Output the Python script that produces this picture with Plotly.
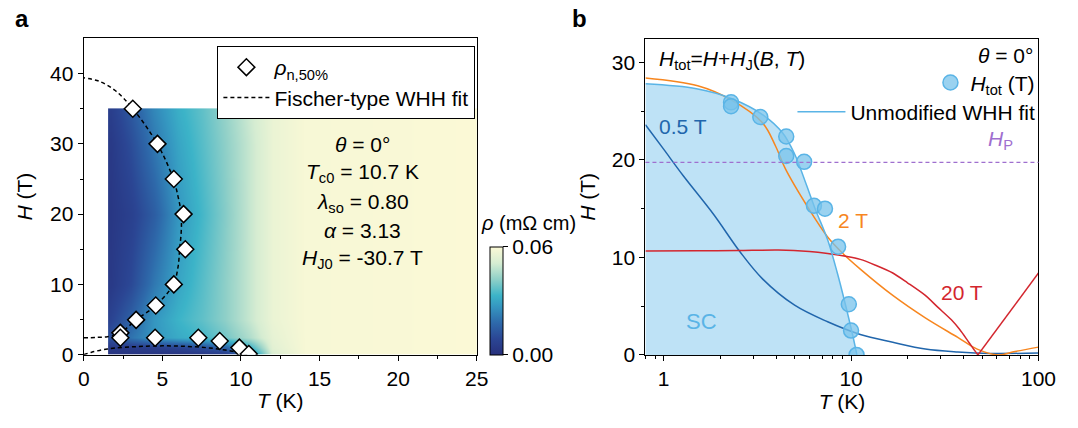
import numpy as np
import plotly.graph_objects as go

# ---------------- Panel a data ----------------
# heatmap grid (resistivity, mOhm cm)
T_grid = [1.6, 1.7, 3, 4.5, 6, 7.5, 9, 10.5, 12, 14, 24.9, 25]
H_grid = [0, 1, 2.5, 5, 10, 20, 30, 34.9, 35]
rho = [
    [0.002, 0.002, 0.002, 0.002, 0.002, 0.003, 0.005, 0.020, 0.052, 0.059, 0.06, 0.06],
    [0.004, 0.004, 0.005, 0.006, 0.008, 0.011, 0.016, 0.032, 0.054, 0.059, 0.06, 0.06],
    [0.012, 0.012, 0.020, 0.027, 0.031, 0.034, 0.039, 0.046, 0.055, 0.059, 0.06, 0.06],
    [0.007, 0.008, 0.016, 0.027, 0.033, 0.037, 0.042, 0.049, 0.056, 0.059, 0.06, 0.06],
    [0.004, 0.004, 0.010, 0.021, 0.030, 0.036, 0.042, 0.049, 0.056, 0.059, 0.06, 0.06],
    [0.003, 0.003, 0.007, 0.015, 0.027, 0.034, 0.041, 0.049, 0.056, 0.059, 0.06, 0.06],
    [0.004, 0.004, 0.011, 0.021, 0.030, 0.036, 0.042, 0.049, 0.056, 0.059, 0.06, 0.06],
    [0.006, 0.006, 0.014, 0.024, 0.032, 0.037, 0.043, 0.050, 0.056, 0.059, 0.06, 0.06],
    [0.006, 0.006, 0.014, 0.024, 0.032, 0.037, 0.043, 0.050, 0.056, 0.059, 0.06, 0.06],
]
# rho_n,50% points
T_half = [3.12, 4.69, 5.73, 6.35, 6.46, 5.73, 4.58, 3.33, 2.33, 2.33, 4.54, 7.29, 8.65, 9.9, 10.5]
H_half = [35.0, 30.0, 25.0, 20.0, 15.0, 10.0, 7.0, 4.95, 3.1, 2.4, 2.4, 2.4, 1.94, 1.0, 0.1]
# Fischer-type WHH fit (upper reentrant branch and lower branch)
fitU_T = [0, 0.8, 1.5, 2.0, 2.35, 3.33, 4.58, 5.7, 6.0, 6.1, 6.2, 6.2, 6.0, 5.7, 4.68, 3.12, 2.0, 1.0, 0]
fitU_H = [2.4, 2.45, 2.55, 2.8, 3.1, 4.95, 7.0, 10.0, 12.5, 15.0, 17.5, 20.0, 22.5, 25.0, 30.0, 35.0, 37.6, 38.9, 39.4]
fitL_T = [0, 0.5, 1, 1.5, 2, 3, 4, 5, 6, 7, 8, 9, 10, 10.4]
fitL_H = [0, 0.35, 0.6, 0.8, 0.95, 1.1, 1.2, 1.25, 1.22, 1.12, 0.95, 0.65, 0.25, 0]

# ---------------- Panel b data ----------------
T_tot = [2.29, 2.29, 3.28, 4.51, 4.51, 5.62, 6.34, 7.26, 8.53, 9.73, 10.0, 10.7]
H_tot = [25.9, 25.5, 24.4, 22.4, 20.4, 19.8, 15.3, 15.0, 11.1, 5.2, 2.5, 0.0]
whh_T = [0.8, 1.5, 2.3, 3.4, 4.3, 5.0, 5.4, 6.4, 7.5, 8.45, 9.35, 10.1, 10.75]
whh_H = [27.8, 27.3, 26.3, 24.6, 22.8, 20.6, 19.0, 15.1, 11.8, 8.4, 5.1, 2.4, 0.0]
b05_T = [0.8, 1.0, 1.27, 1.85, 2.55, 3.37, 5.0, 7.5, 11.2, 16.7, 24.9, 37.1, 55.6, 100]
b05_H = [23.6, 21.1, 18.4, 14.4, 10.6, 7.8, 5.1, 3.4, 2.1, 1.3, 0.6, 0.3, 0.15, 0.2]
b2_T = [0.8, 1.52, 2.27, 3.37, 3.96, 4.46, 5.9, 7.5, 9.16, 11.2, 16.7, 24.9, 37.1, 47.1, 61.1, 75, 100]
b2_H = [28.4, 27.6, 26.2, 23.8, 21.4, 19.1, 15.1, 12.1, 10.3, 8.8, 6.1, 3.8, 1.8, 0.6, 0.0, 0.35, 0.8]
b20_T = [0.8, 1.5, 2.5, 4.1, 6.0, 7.5, 9.5, 11.2, 13.5, 16.7, 20, 24.9, 29, 34.3, 38, 41.8, 44.5, 47.5, 100]
b20_H = [10.66, 10.68, 10.7, 10.75, 10.6, 10.4, 10.1, 9.8, 9.2, 8.4, 7.4, 6.1, 4.9, 3.6, 2.6, 1.5, 0.75, 0.0, 8.4]
H_P = 19.75

FONT = "Liberation Sans, Arial, sans-serif"
FS = 21
LB = "#5ab4e6"
W, Hh = 1078, 428


def px(x):
    return x / W


def py(y):
    return (Hh - y) / Hh


fig = go.Figure()

cscale = [[0.0, '#27307c'], [0.15, '#2b4694'], [0.3, '#2e6aab'], [0.45, '#3597c1'],
          [0.55, '#3cb4c8'], [0.7, '#8fd0c8'], [0.85, '#d6edd2'], [1.0, '#fbf9d6']]

fig.add_trace(go.Heatmap(
    x=T_grid, y=H_grid, z=rho, zsmooth='best', colorscale=cscale, zmin=0, zmax=0.06,
    xaxis='x', yaxis='y', showlegend=False, hoverinfo='skip',
    colorbar=dict(thickness=13, thicknessmode='pixels', len=107.6, lenmode='pixels',
                  x=px(495), xanchor='left', y=py(364.3), yanchor='bottom', xpad=0, ypad=0,
                  outlinewidth=1, outlinecolor='black', tickvals=[0, 0.06], ticktext=['0.00', '0.06'],
                  ticks='outside', ticklen=5, tickcolor='black', tickwidth=1.2,
                  tickfont=dict(size=FS, family=FONT, color='black'))))

fig.add_trace(go.Scatter(x=fitU_T, y=fitU_H, mode='lines', line=dict(color='black', width=1.5, dash='4px,3px', shape='spline'),
                         name='Fischer-type WHH fit', legend='legend', legendrank=2, xaxis='x', yaxis='y'))
fig.add_trace(go.Scatter(x=fitL_T, y=fitL_H, mode='lines', line=dict(color='black', width=1.5, dash='4px,3px', shape='spline'),
                         showlegend=False, xaxis='x', yaxis='y'))
fig.add_trace(go.Scatter(x=T_half, y=H_half, mode='markers',
                         marker=dict(symbol='diamond', size=13, color='white', line=dict(color='black', width=1.5)),
                         name='<i>ρ</i><sub>n,50%</sub>', legend='legend', legendrank=1, xaxis='x', yaxis='y'))

# panel b
fig.add_trace(go.Scatter(x=whh_T, y=whh_H, mode='none', fill='tozeroy', fillcolor='rgba(110,190,235,0.45)',
                         line=dict(shape='spline'), showlegend=False, xaxis='x2', yaxis='y2', hoverinfo='skip'))
fig.add_trace(go.Scatter(x=b05_T, y=b05_H, mode='lines', line=dict(color='#2166ac', width=1.5, shape='spline'),
                         showlegend=False, xaxis='x2', yaxis='y2'))
fig.add_trace(go.Scatter(x=b2_T, y=b2_H, mode='lines', line=dict(color='#f7861f', width=1.5, shape='spline'),
                         showlegend=False, xaxis='x2', yaxis='y2'))
# 20 T curve: smooth descending part, straight rising part after the cusp
fig.add_trace(go.Scatter(x=b20_T[:-1], y=b20_H[:-1], mode='lines', line=dict(color='#d3262e', width=1.5, shape='spline', smoothing=0.8),
                         showlegend=False, xaxis='x2', yaxis='y2'))
fig.add_trace(go.Scatter(x=b20_T[-2:], y=b20_H[-2:], mode='lines', line=dict(color='#d3262e', width=1.5),
                         showlegend=False, xaxis='x2', yaxis='y2'))
fig.add_trace(go.Scatter(x=whh_T, y=whh_H, mode='lines', line=dict(color=LB, width=1.5, shape='spline'),
                         name='Unmodified WHH fit', legend='legend3', xaxis='x2', yaxis='y2'))
fig.add_trace(go.Scatter(x=T_tot, y=H_tot, mode='markers',
                         marker=dict(size=15, color='rgba(120,195,235,0.75)', line=dict(color=LB, width=1.5)),
                         name='<i>H</i><sub>tot</sub> (T)', legend='legend2', xaxis='x2', yaxis='y2'))

ax_common = dict(showline=True, linecolor='black', linewidth=1.2, mirror=True, ticks='outside', ticklen=5,
                 tickwidth=1.2, tickcolor='black', showgrid=False, zeroline=False,
                 tickfont=dict(size=FS, family=FONT, color='black'))

fig.update_layout(
    width=W, height=Hh, margin=dict(l=0, r=0, t=0, b=0),
    plot_bgcolor='white', paper_bgcolor='white',
    font=dict(family=FONT, size=FS, color='black'),
    xaxis=dict(**ax_common, domain=[px(79.5), px(481.5)], range=[0, 25], dtick=5, anchor='y',
               minor=dict(ticks='outside', ticklen=3, tickwidth=1, tickcolor='black', dtick=2.5),
               title=dict(text='<i>T</i> (K)', font=dict(size=FS), standoff=4)),
    yaxis=dict(**ax_common, domain=[py(364), py(39.5)], range=[0, 45], tickvals=[0, 10, 20, 30, 40], anchor='x',
               minor=dict(ticks='outside', ticklen=3, tickwidth=1, tickcolor='black', tickvals=[5, 15, 25, 35]),
               title=dict(text='<i>H</i> (T)', font=dict(size=FS), standoff=11)),
    xaxis2=dict(**ax_common, domain=[px(654), px(1056)], type='log', range=[np.log10(0.8), 2],
                tickmode='linear', tick0=0, dtick=1, anchor='y2',
                minor=dict(ticks='outside', ticklen=3, tickwidth=1, tickcolor='black', dtick='D1'),
                title=dict(text='<i>T</i> (K)', font=dict(size=FS), standoff=4)),
    yaxis2=dict(**ax_common, domain=[py(364.3), py(40)], range=[0, 32.4], dtick=10, anchor='x2',
                minor=dict(ticks='outside', ticklen=3, tickwidth=1, tickcolor='black', dtick=5),
                title=dict(text='<i>H</i> (T)', font=dict(size=FS), standoff=10)),
    legend=dict(x=px(216), y=py(47), xanchor='left', yanchor='top', bordercolor='black', borderwidth=1.2,
                bgcolor='white', font=dict(size=FS, family=FONT), itemwidth=46, tracegroupgap=0),
    legend2=dict(x=px(1058), y=py(85), xanchor='right', yanchor='middle', bgcolor='rgba(0,0,0,0)',
                 font=dict(size=FS, family=FONT)),
    legend3=dict(x=px(1058), y=py(115), xanchor='right', yanchor='middle', bgcolor='rgba(0,0,0,0)',
                 font=dict(size=FS, family=FONT), itemwidth=48),
)

fig.add_shape(type='line', xref='x2 domain', x0=0, x1=1, yref='y2', y0=H_P, y1=H_P,
              line=dict(color='#9f6fcf', width=1.3, dash='4px,3px'))

ann = []
# panel labels
ann.append(dict(text='<b>a</b>', x=px(16), y=py(19), xref='paper', yref='paper', showarrow=False,
                xanchor='center', yanchor='middle', font=dict(size=24)))
ann.append(dict(text='<b>b</b>', x=px(587), y=py(19), xref='paper', yref='paper', showarrow=False,
                xanchor='center', yanchor='middle', font=dict(size=24)))
# panel a parameter text
a_lines = ['<i>θ</i> = 0°', '<i>T</i><sub>c0</sub> = 10.7 K', '<i>λ</i><sub>so</sub> = 0.80',
           '<i>α</i> = 3.13', '<i>H</i><sub>J0</sub> = -30.7 T']
a_y = [148, 178, 208, 237, 266]
for t, yy in zip(a_lines, a_y):
    ann.append(dict(text=t, x=px(365), y=py(yy), xref='paper', yref='paper', showarrow=False,
                    xanchor='center', yanchor='middle', font=dict(size=FS)))
# colorbar title
ann.append(dict(text='<i>ρ</i> (mΩ cm)', x=px(485), y=py(229), xref='paper', yref='paper', showarrow=False,
                xanchor='left', yanchor='middle', borderpad=0, font=dict(size=20)))
# panel b texts
ann.append(dict(text='<i>H</i><sub>tot</sub>=<i>H</i>+<i>H</i><sub>J</sub>(<i>B</i>, <i>T</i>)', x=px(666), y=py(62),
                xref='paper', yref='paper', showarrow=False, xanchor='left', yanchor='middle', font=dict(size=FS)))
ann.append(dict(text='<i>θ</i> = 0°', x=px(1052), y=py(57), xref='paper', yref='paper', showarrow=False,
                xanchor='right', yanchor='middle', font=dict(size=FS)))
ann.append(dict(text='<i>H</i><sub>P</sub>', x=px(1017), y=py(144), xref='paper', yref='paper', showarrow=False,
                xanchor='center', yanchor='middle', font=dict(size=FS, color='#9f6fcf')))
for t, xx, yy, c, s in [('0.5 T', 1.27, 23.4, '#2166ac', FS), ('2 T', 10.2, 13.8, '#f7861f', FS),
                        ('20 T', 39.3, 6.4, '#d3262e', FS), ('SC', 1.6, 3.4, LB, 22)]:
    ann.append(dict(text=t, x=np.log10(xx), y=yy, xref='x2', yref='y2', showarrow=False,
                    xanchor='center', yanchor='middle', font=dict(size=s, color=c)))
fig.update_layout(annotations=ann)

fig.write_html("out.html")
